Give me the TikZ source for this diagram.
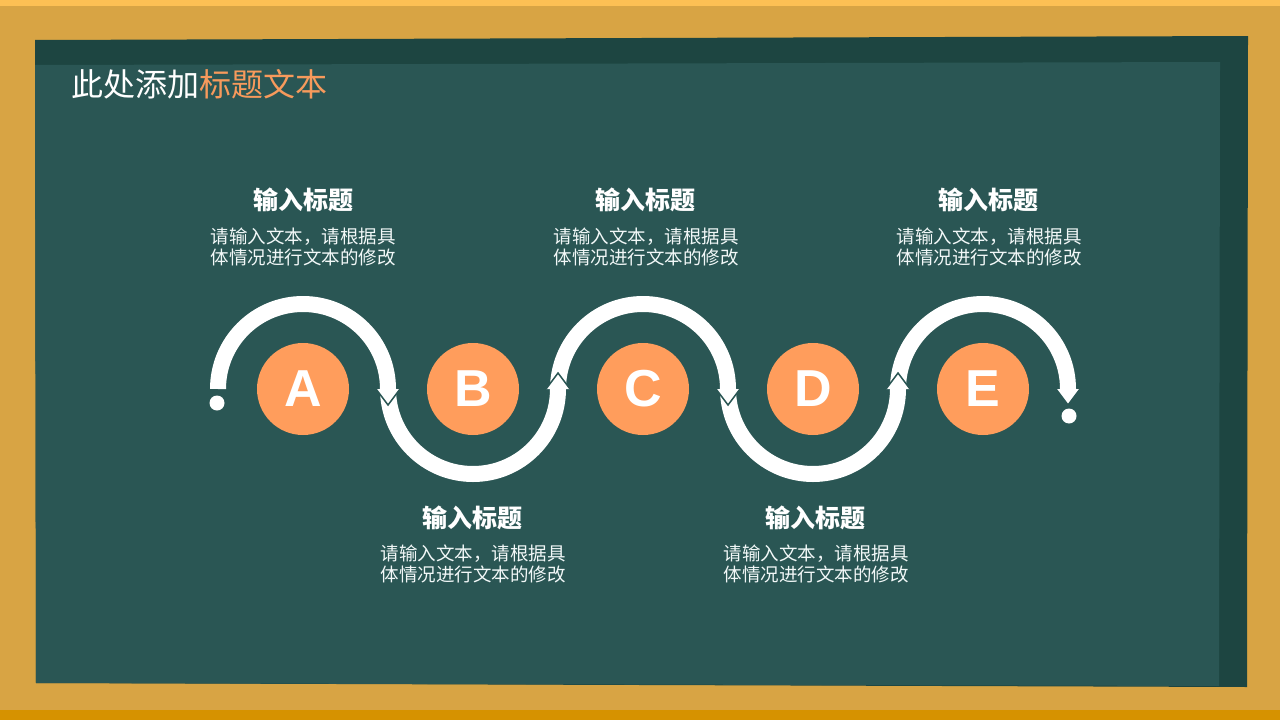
\documentclass[tikz,border=0pt]{standalone}
\usepackage{fontspec}
\setmainfont{Liberation Sans}
\newfontfamily\cjk{Noto Sans CJK SC}
\definecolor{frameY}{HTML}{D8A444}
\definecolor{frameTop}{HTML}{FDC054}
\definecolor{frameBot}{HTML}{D69200}
\definecolor{boardDark}{HTML}{1D4541}
\definecolor{board}{HTML}{2A5654}
\definecolor{orangeC}{HTML}{FF9D5C}
\definecolor{orangeT}{HTML}{F79A5C}
\definecolor{bodyc}{HTML}{F2F8F8}
\begin{document}
\begin{tikzpicture}[x=1pt,y=-1pt,
  band/.style={line width=16pt, draw=white},
  circ/.style={circle, fill=orangeC, minimum size=92pt, inner sep=0pt, text=white, font=\fontsize{52}{52}\selectfont\bfseries},
  ttl/.style={font=\cjk\fontsize{25}{28}\selectfont\bfseries, text=white},
  bodytext/.style={font=\cjk\fontsize{18.5}{21}\selectfont, text=bodyc, align=center},
  headfill/.style={fill=white},
  headedge/.style={draw=board, line width=1.5pt},
  enddot/.style={circle, fill=white, minimum size=15pt, inner sep=0pt}]
\useasboundingbox (0,0) rectangle (1280,720);
% frame
\fill[frameY] (0,0) rectangle (1280,720);
\fill[frameTop] (0,0) rectangle (1280,6);
\fill[frameBot] (0,710) rectangle (1280,720);
% board
\fill[boardDark] (35,40) -- (1248,36) -- (1247,687) -- (36,683) -- cycle;
\fill[board] (35,65) -- (1220,62) -- (1219,686) -- (36,683) -- cycle;
% title
\node[anchor=west, inner sep=0pt, text=white, font=\cjk\fontsize{32}{35}\selectfont] (title) at (71,84) {此处添加\textcolor{orangeT}{标题文本}};
% path coordinates
\coordinate (p0) at (218,389);
\coordinate (p1) at (388,389);
\coordinate (p2) at (558,389);
\coordinate (p3) at (728,389);
\coordinate (p4) at (898,389);
\coordinate (p5) at (1068,389);
% arcs
\draw[band] (p0) arc[start angle=180, end angle=360, radius=85];
\draw[band] (p1) arc[start angle=180, end angle=0, radius=85];
\draw[band] (p2) arc[start angle=180, end angle=360, radius=85];
\draw[band] (p3) arc[start angle=180, end angle=0, radius=85];
\draw[band] (p4) arc[start angle=180, end angle=360, radius=85];
% arrow heads
\foreach \p in {p1,p3,p5}{
  \fill[headfill] ([xshift=-12pt]\p) -- ([yshift=-16pt]\p) -- ([xshift=12pt]\p) -- cycle;
  \draw[headedge] ([xshift=-12pt]\p) -- ([yshift=-16pt]\p) -- ([xshift=12pt]\p);
}
\foreach \p in {p2,p4}{
  \fill[headfill] ([xshift=-12pt]\p) -- ([yshift=16pt]\p) -- ([xshift=12pt]\p) -- cycle;
  \draw[headedge] ([xshift=-12pt]\p) -- ([yshift=16pt]\p) -- ([xshift=12pt]\p);
}
% end dots
\node[enddot] (d0) at (217,403) {};
\node[enddot] (d1) at (1069,416) {};
% circles
\node[circ] (A) at (303,389) {A};
\node[circ] (B) at (473,389) {B};
\node[circ] (C) at (643,389) {C};
\node[circ] (D) at (813,389) {D};
\node[circ] (E) at (983,389) {E};
% labels top
\node[ttl] (tA) at (303,200) {输入标题};
\node[bodytext] (bA) at (303,246.5) {请输入文本，请根据具\\体情况进行文本的修改};
\node[ttl] (tC) at (645.5,200) {输入标题};
\node[bodytext] (bC) at (646,246.5) {请输入文本，请根据具\\体情况进行文本的修改};
\node[ttl] (tE) at (988.5,200) {输入标题};
\node[bodytext] (bE) at (989,246.5) {请输入文本，请根据具\\体情况进行文本的修改};
% labels bottom
\node[ttl] (tB) at (472.5,518) {输入标题};
\node[bodytext] (bB) at (473,564) {请输入文本，请根据具\\体情况进行文本的修改};
\node[ttl] (tD) at (815.5,518) {输入标题};
\node[bodytext] (bD) at (816,564) {请输入文本，请根据具\\体情况进行文本的修改};
\end{tikzpicture}
\end{document}
